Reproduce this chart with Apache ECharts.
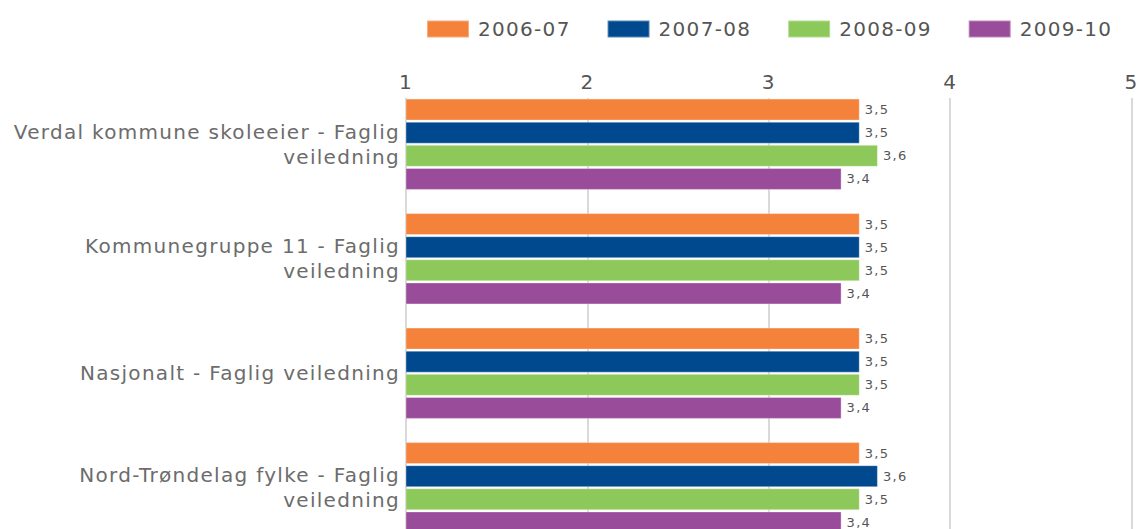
<!DOCTYPE html>
<html><head><meta charset="utf-8">
<script src="https://cdn.jsdelivr.net/npm/echarts@6/dist/echarts.min.js"></script>
<style>
html,body{margin:0;padding:0;background:#fff;overflow:hidden;height:529px}
#c{width:1141px;height:560px}
#c text{letter-spacing:1.3px}
</style>
</head><body><div id="c"></div>
<script>
const categories = [
  "Verdal kommune skoleeier - Faglig\nveiledning",
  "Kommunegruppe 11 - Faglig\nveiledning",
  "Nasjonalt - Faglig veiledning",
  "Nord-Trøndelag fylke - Faglig\nveiledning"
];
const seriesNames = ["2006-07", "2007-08", "2008-09", "2009-10"];
const s2006 = [3.5, 3.5, 3.5, 3.5];
const s2007 = [3.5, 3.5, 3.5, 3.6];
const s2008 = [3.6, 3.5, 3.5, 3.5];
const s2009 = [3.4, 3.4, 3.4, 3.4];
const xTicks = [1, 2, 3, 4, 5];
const colors = ["#f5823a", "#00498f", "#8dc85a", "#994c99"];

const FONT = "DejaVu Sans";
const chart = echarts.init(document.getElementById('c'), null, { renderer: 'svg' });
const allData = [s2006, s2007, s2008, s2009];
chart.setOption({
  animation: false,
  color: colors,
  textStyle: { fontFamily: FONT },
  legend: {
    top: 19, left: 426, padding: 0, itemWidth: 42, itemHeight: 17, itemGap: 45,
    textStyle: { fontSize: 20, color: '#555', fontFamily: FONT, padding: [0, 0, 0, 4] },
    data: seriesNames.map(n => ({ name: n, icon: 'rect' }))
  },
  grid: [
    { left: 406, right: 9, top: 87, height: 458, containLabel: false },
    { left: 406, right: 9, top: 98, height: 447, containLabel: false }
  ],
  xAxis: [
    { type: 'value', gridIndex: 0, min: xTicks[0], max: xTicks[xTicks.length - 1], interval: 1,
      position: 'top', axisLine: { show: false }, axisTick: { show: false },
      axisLabel: { show: false }, splitLine: { show: false } },
    { type: 'value', gridIndex: 1, min: xTicks[0], max: xTicks[xTicks.length - 1], interval: 1,
      position: 'top', axisLine: { show: false }, axisTick: { show: false },
      axisLabel: { color: '#555', fontSize: 20, margin: 6, fontFamily: FONT },
      splitLine: { show: true, lineStyle: { color: '#d9d9d9', width: 2 } } }
  ],
  yAxis: [
    { type: 'category', gridIndex: 0, data: categories, inverse: true,
      axisLine: { show: false }, axisTick: { show: false },
      axisLabel: { color: '#6c6c6c', fontSize: 20, lineHeight: 25, margin: 6, align: 'right', fontFamily: FONT } },
    { type: 'category', gridIndex: 1, data: categories, show: false }
  ],
  series: seriesNames.map((n, i) => ({
    name: n, type: 'bar', xAxisIndex: 0, yAxisIndex: 0,
    data: allData[i], barWidth: 22, barGap: '5%',
    itemStyle: { color: colors[i], borderColor: 'rgba(255,255,255,0.35)', borderWidth: 1 },
    label: { show: true, position: 'right', distance: 5, fontSize: 13, color: '#555', fontFamily: FONT,
      formatter: p => String(p.value).replace('.', ',') }
  }))
});
</script></body></html>
